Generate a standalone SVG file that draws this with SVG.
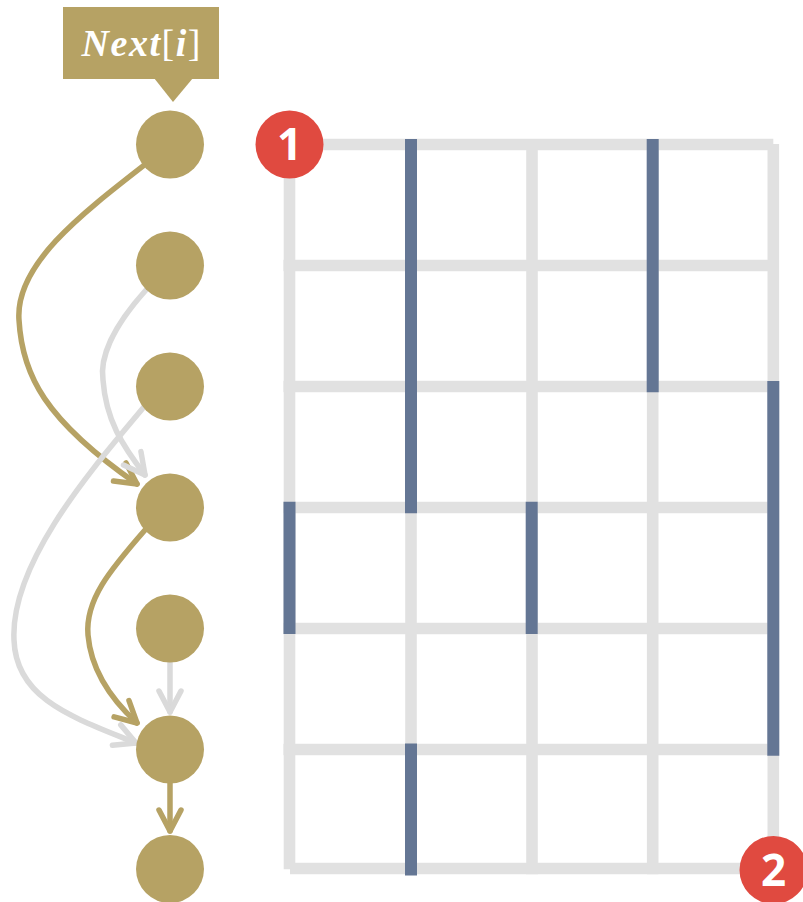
<svg xmlns="http://www.w3.org/2000/svg" width="803" height="902" viewBox="0 0 803 902">
  <style>
    .g { stroke: #e1e1e1; stroke-width: 11.6; stroke-linecap: butt; fill: none; }
    .w { stroke: #647694; stroke-width: 12; stroke-linecap: butt; fill: none; }
    .node { fill: #b6a264; }
    .gold { stroke: #b6a264; stroke-width: 5.5; fill: none; stroke-linecap: round; }
    .grey { stroke: #dadada; stroke-width: 5.5; fill: none; stroke-linecap: round; }
    .badge { fill: #e04a40; }
    .badgetxt { fill: #ffffff; font-family: "Open Sans", "Noto Sans", sans-serif; font-weight: 700; font-size: 44px; text-anchor: middle; }
  </style>
  <defs>
    <marker id="ag" markerUnits="userSpaceOnUse" orient="auto" refX="0" refY="0" markerWidth="40" markerHeight="40" viewBox="-30 -20 40 40" overflow="visible">
      <path d="M-21,-11 L0,0 L-21,11" fill="none" stroke="#b6a264" stroke-width="5.5" stroke-linecap="round" stroke-linejoin="round"/>
    </marker>
    <marker id="ay" markerUnits="userSpaceOnUse" orient="auto" refX="0" refY="0" markerWidth="40" markerHeight="40" viewBox="-30 -20 40 40" overflow="visible">
      <path d="M-21,-11 L0,0 L-21,11" fill="none" stroke="#dadada" stroke-width="5.5" stroke-linecap="round" stroke-linejoin="round"/>
    </marker>
  </defs>

  <g id="grid">
    <line class="g" x1="283.5" y1="144.5" x2="773.3" y2="144.5"/>
    <line class="g" x1="283.5" y1="265.5" x2="773.3" y2="265.5"/>
    <line class="g" x1="283.5" y1="386.5" x2="773.3" y2="386.5"/>
    <line class="g" x1="283.5" y1="507.5" x2="773.3" y2="507.5"/>
    <line class="g" x1="283.5" y1="628.5" x2="773.3" y2="628.5"/>
    <line class="g" x1="283.5" y1="749.5" x2="773.3" y2="749.5"/>
    <line class="g" x1="290" y1="868.5" x2="773.3" y2="868.5"/>
    <line class="g" x1="289.5" y1="139" x2="289.5" y2="869.3"/>
    <line class="g" x1="411" y1="139" x2="411" y2="874.3"/>
    <line class="g" x1="532" y1="139" x2="532" y2="874.3"/>
    <line class="g" x1="652.7" y1="139" x2="652.7" y2="874.3"/>
    <line class="g" x1="773.3" y1="144" x2="773.3" y2="874"/>
    <line class="w" x1="411" y1="139" x2="411" y2="513.3"/>
    <line class="w" x1="411" y1="743.5" x2="411" y2="875.5"/>
    <line class="w" x1="652.7" y1="139" x2="652.7" y2="392.3"/>
    <line class="w" x1="773.3" y1="381" x2="773.3" y2="755.7"/>
    <line class="w" x1="289.5" y1="501.7" x2="289.5" y2="634"/>
    <line class="w" x1="531.7" y1="501.7" x2="531.7" y2="634"/>
  </g>

  <g id="connectors">
    <path class="gold" marker-end="url(#ag)" d="M147,163 C80,215 15,265 19,320 C22,375 45,420 137,484"/>
    <path class="grey" marker-end="url(#ay)" d="M146,290 C110,330 100,360 103,380 C106,420 122,445 145,475"/>
    <path class="grey" marker-end="url(#ay)" d="M143,408 C100,460 10,560 14,640 C16,700 75,718 136,743"/>
    <path class="gold" marker-end="url(#ag)" d="M145,530 C110,570 85,600 88,635 C91,670 112,700 137,723"/>
    <path class="grey" marker-end="url(#ay)" d="M170,662 L170,712"/>
    <path class="gold" marker-end="url(#ag)" d="M170,783 L170,831"/>
  </g>

  <g id="n0"><circle class="node" cx="170" cy="144.5" r="34"/></g>
  <g id="n1"><circle class="node" cx="170" cy="265.5" r="34"/></g>
  <g id="n2"><circle class="node" cx="170" cy="386.5" r="34"/></g>
  <g id="n3"><circle class="node" cx="170" cy="507.5" r="34"/></g>
  <g id="n4"><circle class="node" cx="170" cy="628.5" r="34"/></g>
  <g id="n5"><circle class="node" cx="170" cy="749.5" r="34"/></g>
  <g id="n6"><circle class="node" cx="170" cy="869" r="34"/></g>

  <g id="label">
    <rect x="63" y="7" width="156" height="72" fill="#b6a264"/>
    <polygon points="154,78 193,78 173,102" fill="#b6a264"/>
    <text x="141" y="56" text-anchor="middle" textLength="119" lengthAdjust="spacing" fill="#ffffff" font-family="'Liberation Serif', 'DejaVu Serif', serif" font-size="38"><tspan font-style="italic" font-weight="700">Next</tspan><tspan font-weight="400">[</tspan><tspan font-style="italic" font-weight="700">i</tspan><tspan font-weight="400">]</tspan></text>
  </g>

  <g id="badge1">
    <circle class="badge" cx="289.5" cy="144.5" r="34"/>
    <text class="badgetxt" x="289.5" y="160">1</text>
  </g>
  <g id="badge2">
    <circle class="badge" cx="773.5" cy="870" r="34"/>
    <text class="badgetxt" x="773.5" y="886">2</text>
  </g>
</svg>
